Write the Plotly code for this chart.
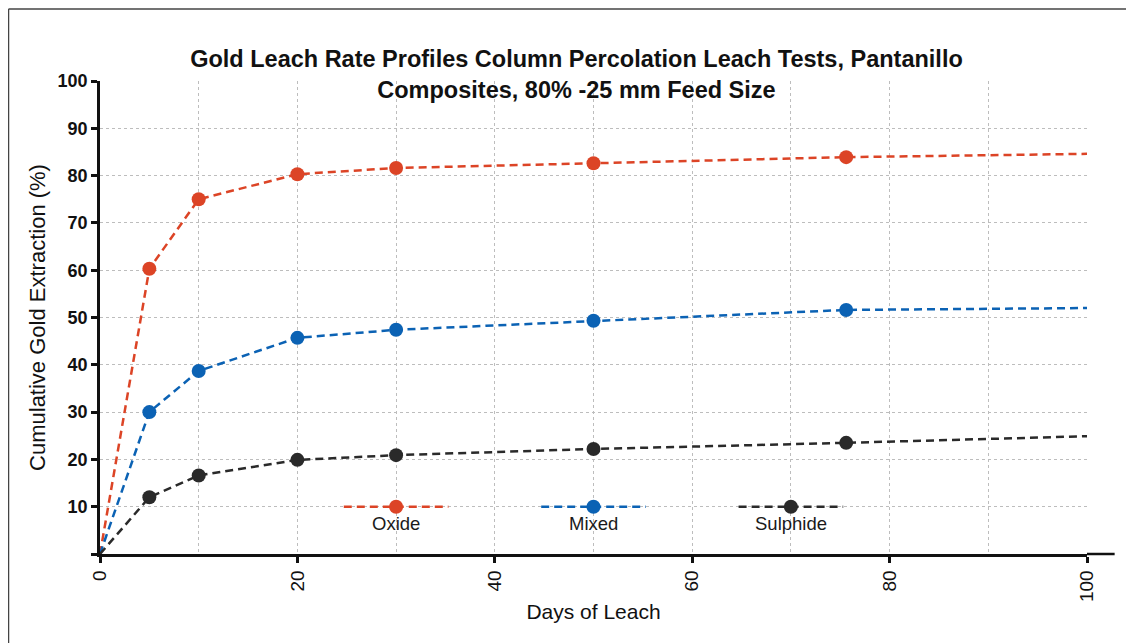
import plotly.graph_objects as go

days = [0, 5, 10, 20, 30, 50, 75.6, 100]
oxide = [0, 60.3, 75.0, 80.3, 81.6, 82.6, 83.9, 84.6]
mixed = [0, 30.0, 38.7, 45.7, 47.4, 49.3, 51.6, 52.0]
sulphide = [0, 12.0, 16.6, 19.9, 20.9, 22.2, 23.5, 24.9]
names = ["Oxide", "Mixed", "Sulphide"]
colors = ["#DC4426", "#0B62B4", "#2A2A2A"]
legend_x = [30, 50, 70]
legend_y = 10
x_ticks = [0, 20, 40, 60, 80, 100]
y_ticks = [0, 10, 20, 30, 40, 50, 60, 70, 80, 90, 100]
y_ticklabels = ["", "10", "20", "30", "40", "50", "60", "70", "80", "90", "100"]

series = [oxide, mixed, sulphide]
FONT = "Liberation Sans"
DASH = "8px,5px"

fig = go.Figure()
for name, vals, col in zip(names, series, colors):
    fig.add_trace(go.Scatter(x=days, y=vals, mode="lines", name=name,
                             line=dict(color=col, width=2.5, dash=DASH),
                             showlegend=False, hoverinfo="skip"))
    fig.add_trace(go.Scatter(x=days[1:-1], y=vals[1:-1], mode="markers", name=name,
                             marker=dict(color=col, size=14), showlegend=False))

# custom legend drawn inside the plot
for name, col, lx in zip(names, colors, legend_x):
    fig.add_trace(go.Scatter(x=[lx - 5.3, lx, lx + 5.3], y=[legend_y] * 3, mode="lines",
                             line=dict(color=col, width=2.5, dash=DASH),
                             showlegend=False, hoverinfo="skip"))
    fig.add_trace(go.Scatter(x=[lx], y=[legend_y], mode="markers",
                             marker=dict(color=col, size=14), showlegend=False, hoverinfo="skip"))
    fig.add_annotation(x=lx, y=legend_y, xref="x", yref="y", text=name, showarrow=False,
                       yshift=-17, font=dict(family=FONT, size=18.5, color="#1a1a1a"))

fig.update_layout(
    width=1134, height=643,
    margin=dict(l=92, r=55, t=73, b=97),
    paper_bgcolor="white", plot_bgcolor="white",
    title=dict(text="<b>Gold Leach Rate Profiles Column Percolation Leach Tests, Pantanillo<br>Composites, 80% -25 mm Feed Size</b>",
               x=0.5013, xanchor="center", y=0.908, yanchor="middle",
               font=dict(family=FONT, size=23.5, color="#111")),
    font=dict(family=FONT, color="#111"),
)

fig.update_xaxes(range=[0, 100], tickvals=x_ticks, tickangle=-90,
                 tickfont=dict(size=19, family=FONT, color="#111"),
                 ticks="outside", ticklen=6, tickwidth=2.5, tickcolor="#111",
                 showline=True, linecolor="#111", linewidth=2.5,
                 showgrid=True, gridcolor="#bdbdbd", gridwidth=1, griddash="dot",
                 minor=dict(dtick=10, showgrid=True, gridcolor="#bdbdbd", gridwidth=1, griddash="dot"),
                 zeroline=False,
                 title=dict(text="Days of Leach", font=dict(size=21, family=FONT, color="#111"), standoff=4))
fig.update_yaxes(range=[0, 100], tickvals=y_ticks, ticktext=y_ticklabels,
                 tickfont=dict(size=18, family=FONT, color="#111", weight="bold"),
                 ticks="outside", ticklen=6, tickwidth=2.5, tickcolor="#111",
                 showline=True, linecolor="#111", linewidth=2.5,
                 showgrid=True, gridcolor="#bdbdbd", gridwidth=1, griddash="dot",
                 zeroline=False,
                 title=dict(text="Cumulative Gold Extraction (%)", font=dict(size=22, family=FONT, color="#111"), standoff=6))

# x-axis line extension beyond last gridline
fig.add_shape(type="line", xref="paper", yref="paper", x0=1.0, x1=1.028, y0=0, y1=0,
              line=dict(color="#111", width=2.5))
# outer frame (top and left edges)
fig.add_shape(type="line", xref="paper", yref="paper", x0=-0.0927, x1=1.06, y0=1.152, y1=1.152,
              line=dict(color="#444", width=1.5))
fig.add_shape(type="line", xref="paper", yref="paper", x0=-0.0927, x1=-0.0927, y0=1.152, y1=-0.25,
              line=dict(color="#444", width=1.5))

fig.write_html("out.html")
